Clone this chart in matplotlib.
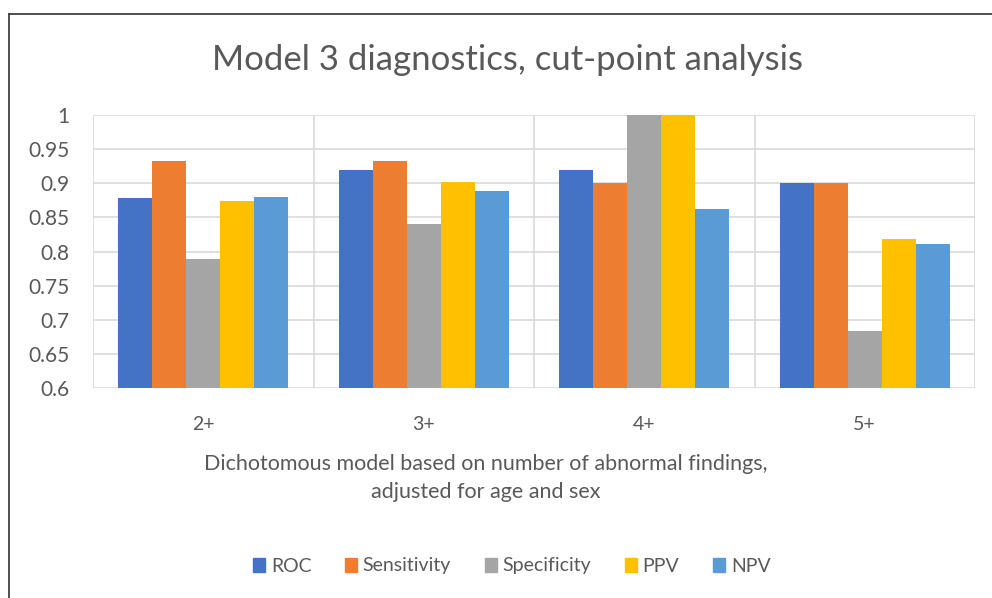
import numpy as np
import matplotlib
matplotlib.use("Agg")
import matplotlib.pyplot as plt
from matplotlib.patches import Rectangle
from matplotlib.lines import Line2D

# ----------------------
# Data
# ----------------------
categories = ["2+", "3+", "4+", "5+"]
series = ["ROC", "Sensitivity", "Specificity", "PPV", "NPV"]
roc = [0.879, 0.920, 0.920, 0.900]
sensitivity = [0.933, 0.933, 0.900, 0.900]
specificity = [0.789, 0.841, 1.000, 0.683]
ppv = [0.874, 0.902, 1.000, 0.818]
npv = [0.880, 0.888, 0.863, 0.811]
yticks = [0.6, 0.65, 0.7, 0.75, 0.8, 0.85, 0.9, 0.95, 1.0]
ytick_labels = ["0.6", "0.65", "0.7", "0.75", "0.8", "0.85", "0.9", "0.95", "1"]

colors = ["#4472C4", "#ED7D31", "#A5A5A5", "#FFC000", "#5B9BD5"]
text_col = "#595959"
grid_col = "#D9D9D9"

plt.rcParams["font.family"] = ["Lato", "DejaVu Sans"]

W, H = 992, 598
fig = plt.figure(figsize=(W / 100, H / 100), dpi=100)

# outer chart frame (only left and top visible, cut off at right/bottom)
fig.add_artist(Line2D([9 / W, 9 / W], [0, 1 - 14 / H], color="#404040", lw=1.3))
fig.add_artist(Line2D([9 / W, 1], [1 - 14 / H, 1 - 14 / H], color="#404040", lw=1.3))

# plot area
x0, x1, ytop, ybot = 93, 975, 115, 388
ax = fig.add_axes([x0 / W, 1 - ybot / H, (x1 - x0) / W, (ybot - ytop) / H])

x = np.arange(len(categories))
bw = 0.154
for j, (name, vals) in enumerate(zip(series, [roc, sensitivity, specificity, ppv, npv])):
    ax.bar(x + (j - 2) * bw, np.array(vals) - 0.6, bw, bottom=0.6,
           color=colors[j], label=name, zorder=3)

ax.set_xlim(-0.5, len(categories) - 0.5)
ax.set_ylim(0.6, 1.0)
ax.set_yticks(yticks)
ax.set_yticklabels(ytick_labels)
ax.set_xticks(x)
ax.set_xticklabels(categories)

# gridlines: horizontal at each tick, vertical at category boundaries
for yv in yticks:
    ax.axhline(yv, color=grid_col, lw=1.2, zorder=1)
for xb in np.arange(-0.5, len(categories), 1.0):
    ax.axvline(xb, color=grid_col, lw=1.2, zorder=1)

for s in ax.spines.values():
    s.set_visible(False)
ax.tick_params(axis="both", length=0, colors=text_col)
ax.tick_params(axis="y", labelsize=15, pad=17)
ax.tick_params(axis="x", labelsize=14, pad=20)

fig.text(508 / W, 1 - 60 / H, "Model 3 diagnostics, cut-point analysis",
         ha="center", va="center", fontsize=25, color=text_col)
fig.text(486 / W, 1 - 478 / H,
         "Dichotomous model based on number of abnormal findings,\nadjusted for age and sex",
         ha="center", va="center", fontsize=15.5, color=text_col, linespacing=1.5)

handles = [Rectangle((0, 0), 1, 1, color=c) for c in colors]
fig.legend(handles, series, loc="center", bbox_to_anchor=(512 / W, 1 - 566 / H),
           ncol=5, frameon=False, fontsize=14, handlelength=0.6, handleheight=0.7,
           handletextpad=0.3, columnspacing=1.75, labelcolor=text_col)

fig.savefig("out.png", dpi=100)
